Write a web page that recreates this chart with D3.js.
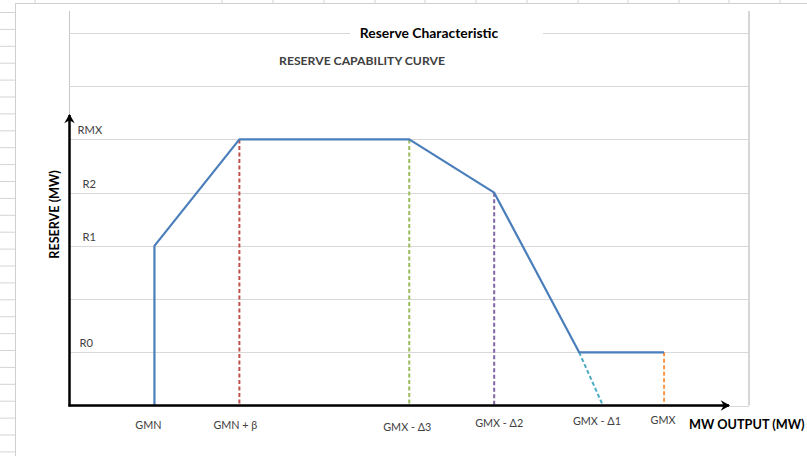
<!DOCTYPE html>
<html><head><meta charset="utf-8">
<script src="https://cdn.jsdelivr.net/npm/d3@7/dist/d3.min.js"></script>
<style>body{margin:0;background:#fff;} svg{display:block;}</style>
</head><body>
<svg id="c" width="807" height="456"></svg>
<script>
// ---- data ----
const xCategories = ["GMN", "GMN + β", "GMX - Δ3", "GMX - Δ2", "GMX - Δ1", "GMX"];
const xCategoryValues = [12.5, 25, 50, 62.5, 78.5, 87.5];
const yLevelLabels = ["R0", "R1", "R2", "RMX"];
const yLevelValues = [1, 3, 4, 5];
const yGridValues = [0, 1, 2, 3, 4, 5, 6, 7];
const curveX = [12.5, 12.5, 25, 50, 62.5, 75, 87.5];
const curveY = [0, 3, 5, 5, 4, 1, 1];
const dropX0 = [25, 50, 62.5, 75, 87.5];
const dropY0 = [5, 5, 4, 1, 1];
const dropX1 = [25, 50, 62.5, 78.5, 87.5];
const dropY1 = [0, 0, 0, 0, 0];
const titleText = "Reserve Characteristic";
const subtitleText = "RESERVE CAPABILITY CURVE";
const xTitle = "MW OUTPUT (MW)";
const yTitle = "RESERVE (MW)";

// ---- styles / layout ----
const dropColors = ["#c0504d", "#9bbb59", "#8064a2", "#4bacc6", "#f79646"];
const lineColor = "#4a7ebb";
const gridColor = "#d9d9d9";
const font = "Lato, 'Open Sans', sans-serif";
const labelDx = [-6, -4, -2, 5, -6, -1];
const labelY = [429, 429, 431, 427, 425, 424];

const svg = d3.select("#c");
const W = 807, H = 456;

// spreadsheet background
const sheetRows = d3.range(12.5, H, 16.9);
svg.selectAll("line.row").data(sheetRows).join("line")
  .attr("x1", 0).attr("x2", 15).attr("y1", d => d).attr("y2", d => d)
  .attr("stroke", "#d4d4d4").attr("stroke-width", 1);
const sheetCols = [35, 222, 273, 324, 375, 425, 476, 527, 578, 628, 679, 729, 780];
svg.selectAll("line.col").data(sheetCols).join("line")
  .attr("x1", d => d).attr("x2", d => d).attr("y1", 0).attr("y2", 3)
  .attr("stroke", "#d4d4d4").attr("stroke-width", 1);

// chart area
svg.append("rect").attr("x", 15.5).attr("y", 3.5).attr("width", W).attr("height", H)
  .attr("fill", "#fff").attr("stroke", "#cfcfcf").attr("stroke-width", 1);

const x = d3.scaleLinear().domain([0, 100]).range([69.5, 749]);
const y = d3.scaleLinear().domain([0, 7]).range([405.5, 33]);

// gridlines
const g = svg.append("g");
g.selectAll("line.grid").data(yGridValues).join("line")
  .attr("x1", x(0)).attr("x2", x(100))
  .attr("y1", d => Math.round(y(d)) + 0.5).attr("y2", d => Math.round(y(d)) + 0.5)
  .attr("stroke", gridColor).attr("stroke-width", 1.2);
// plot side lines
g.append("line").attr("x1", x(0)).attr("x2", x(0)).attr("y1", 11).attr("y2", y(0))
  .attr("stroke", "#c8c8c8").attr("stroke-width", 1);
g.append("line").attr("x1", x(100)).attr("x2", x(100)).attr("y1", 11).attr("y2", y(0))
  .attr("stroke", "#c8c8c8").attr("stroke-width", 1.5);

// title with white break in top gridline
svg.append("rect").attr("x", 350).attr("y", 26).attr("width", 193).attr("height", 14).attr("fill", "#fff");
svg.append("text").attr("x", 429).attr("y", 38).attr("text-anchor", "middle")
  .attr("font-family", font).attr("font-weight", "bold").attr("font-size", 13.9)
  .attr("fill", "#000").text(titleText);
svg.append("text").attr("x", 362).attr("y", 64.5).attr("text-anchor", "middle")
  .attr("font-family", font).attr("font-weight", "bold").attr("font-size", 12.2)
  .attr("fill", "#404040").text(subtitleText);

// drop lines (dashed)
svg.selectAll("line.drop").data(dropX0).join("line")
  .attr("x1", d => x(d)).attr("y1", (d, i) => y(dropY0[i]))
  .attr("x2", (d, i) => x(dropX1[i])).attr("y2", (d, i) => y(dropY1[i]))
  .attr("stroke", (d, i) => dropColors[i]).attr("stroke-width", 2)
  .attr("stroke-dasharray", "4,2.5");

// curve
const pts = curveX.map((d, i) => [d, curveY[i]]);
svg.append("path").datum(pts)
  .attr("d", d3.line().x(d => x(d[0])).y(d => y(d[1])))
  .attr("fill", "none").attr("stroke", lineColor).attr("stroke-width", 2.2)
  .attr("stroke-linejoin", "round");

// axes with arrows
const defs = svg.append("defs");
defs.append("marker").attr("id", "arr").attr("viewBox", "-10 -6 12 12")
  .attr("refX", 0).attr("refY", 0).attr("markerWidth", 5).attr("markerHeight", 5)
  .attr("markerUnits", "strokeWidth").attr("orient", "auto")
  .append("path").attr("d", "M1,0 L-8,-5 L-5,0 L-8,5 Z").attr("fill", "#000");
svg.append("line").attr("x1", x(0)).attr("y1", y(0) + 1).attr("x2", x(0)).attr("y2", 115)
  .attr("stroke", "#000").attr("stroke-width", 2.5).attr("marker-end", "url(#arr)");
svg.append("line").attr("x1", x(0) - 1).attr("y1", y(0)).attr("x2", 729).attr("y2", y(0))
  .attr("stroke", "#000").attr("stroke-width", 2.5).attr("marker-end", "url(#arr)");

// y level labels
svg.selectAll("text.ylab").data(yLevelLabels).join("text")
  .attr("x", (d, i) => x(0) + (d === "RMX" ? 8 : d === "R0" ? 10 : 13))
  .attr("y", (d, i) => y(yLevelValues[i]) - 5)
  .attr("font-family", font).attr("font-size", 11.2).attr("fill", "#404040").text(d => d);

// x category labels
svg.selectAll("text.xlab").data(xCategories).join("text")
  .attr("x", (d, i) => x(xCategoryValues[i]) + labelDx[i])
  .attr("y", (d, i) => labelY[i])
  .attr("text-anchor", "middle")
  .attr("font-family", font).attr("font-size", 10.8).attr("fill", "#404040").text(d => d);

// axis titles
svg.append("text").attr("x", 689).attr("y", 428.5)
  .attr("font-family", font).attr("font-weight", "bold").attr("font-size", 12.7)
  .attr("fill", "#000").text(xTitle);
svg.append("text").attr("transform", "translate(58.5,214.5) rotate(-90)")
  .attr("text-anchor", "middle")
  .attr("font-family", font).attr("font-weight", "bold").attr("font-size", 12.6)
  .attr("fill", "#000").text(yTitle);
</script>
</body></html>
